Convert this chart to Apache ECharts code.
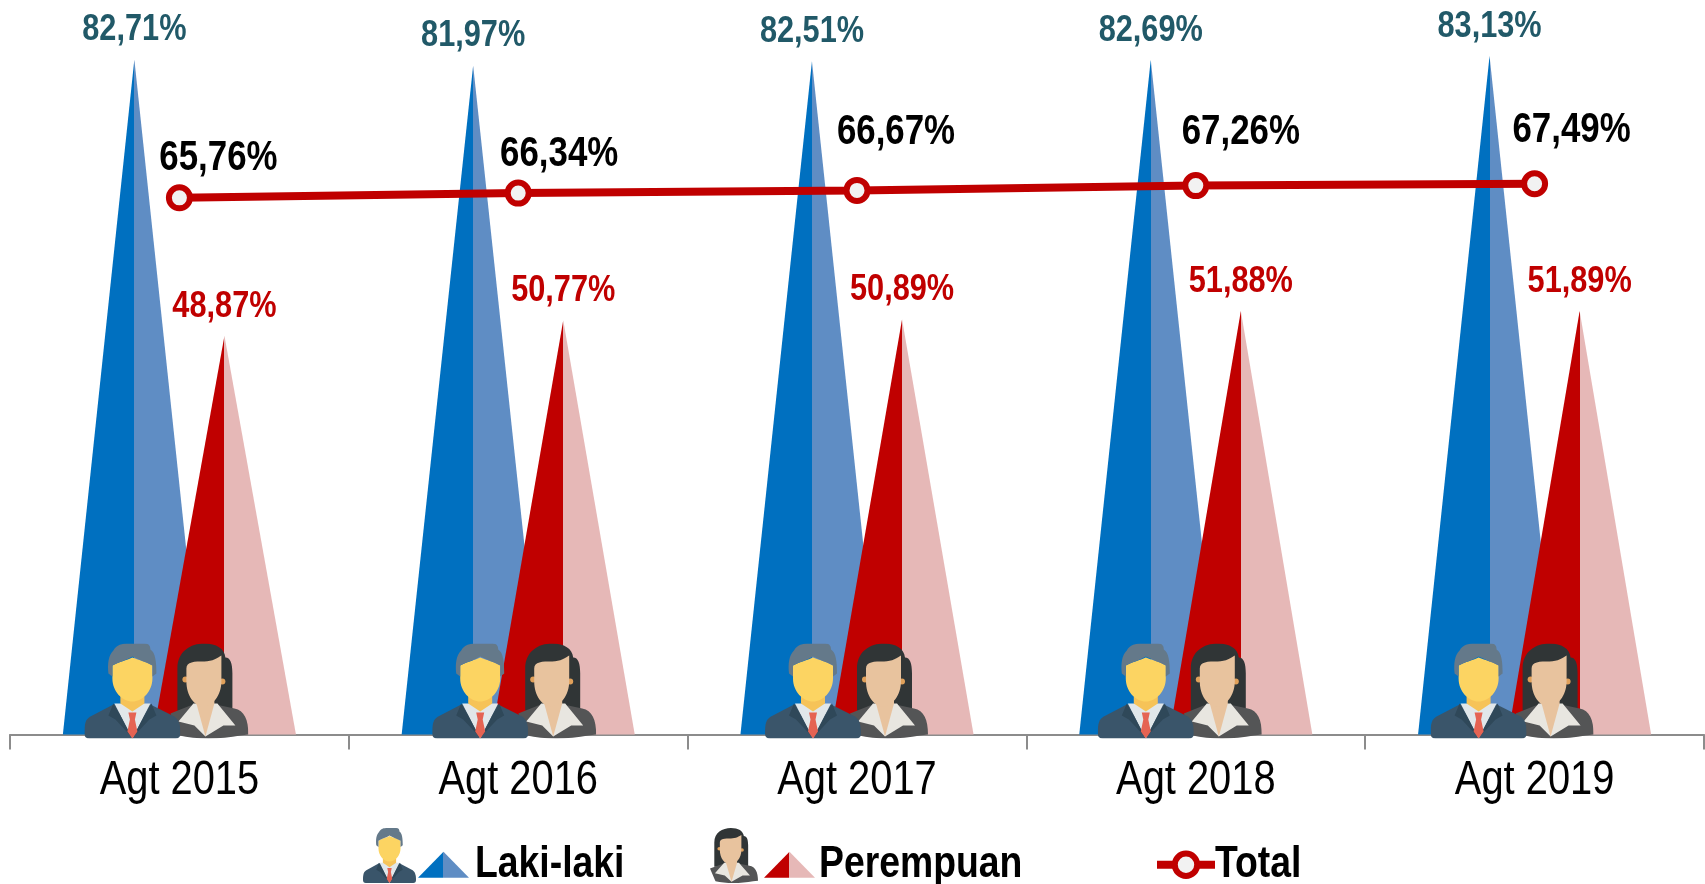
<!DOCTYPE html>
<html><head><meta charset="utf-8">
<style>html,body{margin:0;padding:0;background:#fff}#c{width:1705px;height:884px}</style>
<script src="https://cdn.jsdelivr.net/npm/echarts@6/dist/echarts.min.js"></script>
</head><body><div id="c"></div>
<script>
const categories = ['Agt 2015','Agt 2016','Agt 2017','Agt 2018','Agt 2019'];
const lakiLaki = [82.71,81.97,82.51,82.69,83.13];
const perempuan = [48.87,50.77,50.89,51.88,51.89];
const total = [65.76,66.34,66.67,67.26,67.49];
const totalLabelOffsets = [[39,-8],[41,-8],[39,-27],[45,-22],[37,-22]];
const manIconOffsets = [-47,-38,-44,-50,-56];
const womanIconOffsets = [30,39,32,27,20];
const FONT = '"Liberation Sans",sans-serif';
const fmt = v => v.toFixed(2).replace('.', ',') + '%';

// No narrow face is installed: condense the installed sans horizontally, as the reference's narrow type.
const NARROW = 0.83;
(function(){
  const P = CanvasRenderingContext2D.prototype;
  const fill = P.fillText, stroke = P.strokeText, measure = P.measureText;
  const wrap = orig => function(t,x,y,m){
    this.save(); this.translate(x,y); this.scale(NARROW,1);
    m===undefined ? orig.call(this,t,0,0) : orig.call(this,t,0,0,m/NARROW);
    this.restore();
  };
  P.fillText = wrap(fill); P.strokeText = wrap(stroke);
  P.measureText = function(t){
    const r = measure.call(this,t);
    return {width:r.width*NARROW,
      actualBoundingBoxAscent:r.actualBoundingBoxAscent,actualBoundingBoxDescent:r.actualBoundingBoxDescent,
      actualBoundingBoxLeft:r.actualBoundingBoxLeft*NARROW,actualBoundingBoxRight:r.actualBoundingBoxRight*NARROW,
      fontBoundingBoxAscent:r.fontBoundingBoxAscent,fontBoundingBoxDescent:r.fontBoundingBoxDescent};
  };
})();

const manSvg = `<svg xmlns="http://www.w3.org/2000/svg" viewBox="0 0 96 95" width="192" height="190">
<path fill="#3a556a" d="M0 90C0 80 1 76 6 73L29 61H66L90 73C94 76 96 80 96 90Q96 95 91 95H5Q0 95 0 90Z"/>
<path fill="#e1e7ea" d="M30 60H66L48 95Z"/>
<path fill="#2f4859" d="M29 60L24 72L31 76L47 93L36 72Z"/><path fill="#2f4859" d="M67 60L72 72L65 76L49 93L60 72Z"/>
<path fill="#e56353" d="M44 69H52L50.5 76L53 88L48 95L43 88L45.5 76Z"/>
<path fill="#f6c358" d="M36 50H60V60L48 68L36 60Z"/>
<path fill="#fcd462" d="M28 22C35 18 42 17 48 14C55 17 62 18 68 22V35C68 48 58 58 48 58C38 58 28 48 28 35Z"/>
<path fill="#64798a" d="M24 30C23 20 24 12 29 7C32 1 38 0 44 0H60C65 0 66 3 66 6C71 9 72 18 72 30L68 33V22C60 18 54 16 48 13C42 17 35 18 28 22V33Z"/>
</svg>`;
const womanSvg = `<svg xmlns="http://www.w3.org/2000/svg" viewBox="0 0 78 95" width="156" height="190">
<path fill="#303536" d="M7 67V25C7 8 20 0 34 0C46 0 54 5 55 14C60 14 62 20 62 30V67Z"/>
<path fill="#545556" d="M0 70L20 62H50L64 65C74 67 78 76 78 91L70 92C50 96 25 96 9 92L8 90Z"/>
<path fill="#e8e6e0" d="M23 60L8 78L24 82L35 93L53 82L65 82L47 60Z"/>
<path fill="#e8c39e" d="M26 52H44V60L35 93L26 60Z"/>
<circle cx="15" cy="36" r="3" fill="#e0a05a"/><circle cx="52" cy="38" r="3" fill="#e0a05a"/>
<path fill="#e8c39e" d="M16 25C16 18 24 18 34 18C42 18 48 14 51 12V38C51 52 42 63 33 63C24 63 16 52 16 38Z"/>
</svg>`;
const uri = s => 'data:image/svg+xml;charset=utf-8,' + encodeURIComponent(s);
const manImg = uri(manSvg), womanImg = uri(womanSvg);

function iconSeries(name, img, w, h, offsets){
  return {
    type:'custom', name, z:5, silent:true, clip:false,
    data: categories.map((c,i)=>[i,0]),
    encode:{x:0,y:1},
    renderItem(params, api){
      const p = api.coord([api.value(0), 0]);
      const off = offsets[params.dataIndex];
      return {type:'image', style:{image:img, x:p[0]+off-w/2, y:p[1]+4-h, width:w, height:h}};
    }
  };
}
const split = (a,b)=>({type:'linear',x:0,y:0,x2:1,y2:0,colorStops:[
  {offset:0,color:a},{offset:0.5,color:a},{offset:0.5,color:b},{offset:1,color:b}]});
function triSeries(name, values, a, b, labelColor, dist){
  return {
    type:'pictorialBar', name, z:2,
    symbol:'triangle', symbolSize:['100%','100%'], symbolPosition:'start',
    barWidth:143, barGap:'-37%',
    itemStyle:{color:split(a,b)},
    label:{show:true, position:'top', distance:dist, formatter:p=>fmt(p.value),
      fontFamily:FONT, fontWeight:'bold', fontSize:37, color:labelColor},
    data:values
  };
}
const legendBase = {orient:'horizontal', padding:0, selectedMode:false, top:846, itemGap:0};
const legendText = pad => ({fontFamily:FONT,fontWeight:'bold',fontSize:45,color:'#000',padding:[0,0,0,pad]});

const chart = echarts.init(document.getElementById('c'));
chart.setOption({
  animation:false,
  backgroundColor:'#fff',
  grid:{left:10,right:1,top:0,bottom:149.5,containLabel:false},
  xAxis:{type:'category',data:categories,
    axisLine:{lineStyle:{color:'#8c8c8c',width:2}},
    axisTick:{show:true,length:15,lineStyle:{color:'#8c8c8c',width:2}},
    axisLabel:{color:'#000',fontFamily:FONT,fontSize:48,margin:26}},
  yAxis:{type:'value',min:0,max:90,show:false},
  legend:[
    Object.assign({},legendBase,{data:['Laki-laki'],left:418,icon:'triangle',itemWidth:51,itemHeight:26,textStyle:legendText(1)}),
    Object.assign({},legendBase,{data:['Perempuan'],left:764,icon:'triangle',itemWidth:51,itemHeight:26,textStyle:legendText(-1)}),
    Object.assign({},legendBase,{data:['Total'],left:1153,itemWidth:58,itemHeight:28,textStyle:legendText(-5),
      lineStyle:{color:'#c00000',width:8},
      itemStyle:{color:'#f2f2f2',borderColor:'#c00000',borderWidth:6}})
  ],
  graphic:[
    {type:'image',left:363,top:828,style:{image:manImg,width:53,height:55}},
    {type:'image',left:710,top:828,style:{image:womanImg,width:48,height:55}}
  ],
  series:[
    triSeries('Laki-laki',lakiLaki,'#0070c0','#5f8dc4','#215968',14),
    triSeries('Perempuan',perempuan,'#c00000','#e6b8b7','#c00000',14),
    {type:'line',name:'Total',z:4,
      symbol:'circle',symbolSize:21,showAllSymbol:true,
      lineStyle:{color:'#c00000',width:8},
      itemStyle:{color:'#f2f2f2',borderColor:'#c00000',borderWidth:6},
      data:total.map((v,i)=>({value:v,label:{offset:totalLabelOffsets[i]}})),
      label:{show:true,position:'top',distance:0,formatter:p=>fmt(p.value),
        fontFamily:FONT,fontWeight:'bold',fontSize:42,color:'#000'}},
    iconSeries('woman',womanImg,78,95,womanIconOffsets),
    iconSeries('man',manImg,96,95,manIconOffsets)
  ]
});
</script></body></html>
